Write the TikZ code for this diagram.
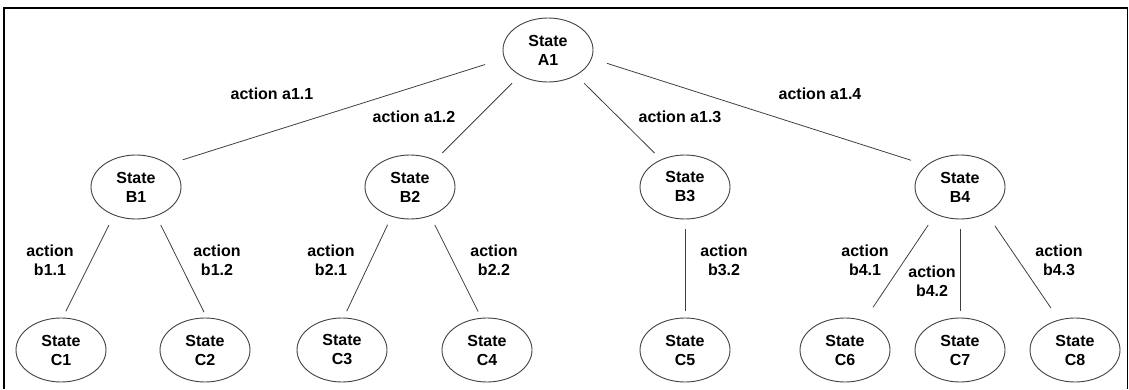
\documentclass[tikz,border=0pt]{standalone}
\usepackage{fontspec}
\setmainfont{Liberation Sans}
\usetikzlibrary{shapes.geometric}
\begin{document}
\begin{tikzpicture}[x=1pt,y=1pt,
  state/.style={ellipse,draw=black!75,line width=0.9pt,minimum width=90pt,minimum height=64pt,inner sep=0pt,align=center,font=\bfseries\fontsize{16}{19}\selectfont},
  act/.style={align=center,inner sep=0pt,font=\bfseries\fontsize{16}{19}\selectfont},
  link/.style={draw=black!75,line width=0.8pt}]
\useasboundingbox (0.000000,0.000000) rectangle (1129.000000,389.000000);
% Drawing frame
\draw[line width=2pt] (4.000000,0.000000) -- (4.000000,381.000000) -- (1127.500000,381.000000);
\draw[line width=1.5pt] (1127.500000,381.000000) -- (1127.500000,0.000000);
% Drawing states
% Level A
\node[state] (A1) at (548.000000,339.000000) {State\\A1};
% Level B
\node[state] (B1) at (136.000000,202.000000) {State\\B1};
\node[state] (B2) at (410.000000,202.000000) {State\\B2};
\node[state] (B3) at (685.000000,202.000000) {State\\B3};
\node[state] (B4) at (960.000000,202.000000) {State\\B4};
% Level C
\node[state] (C1) at (61.000000,39.000000) {State\\C1};
\node[state] (C2) at (205.000000,39.000000) {State\\C2};
\node[state] (C3) at (342.000000,39.000000) {State\\C3};
\node[state] (C4) at (487.000000,39.000000) {State\\C4};
\node[state] (C5) at (685.000000,39.000000) {State\\C5};
\node[state] (C6) at (845.000000,39.000000) {State\\C6};
\node[state] (C7) at (960.000000,39.000000) {State\\C7};
\node[state] (C8) at (1075.000000,39.000000) {State\\C8};
% Done with states; drawing actions
\draw[link,shorten <=20pt,shorten >=15pt] (A1.191) -- (B1.35);
\draw[link,shorten <=11pt,shorten >=10pt] (A1.222) -- (B2.47);
\draw[link,shorten <=11pt,shorten >=9pt] (A1.318) -- (B3.131);
\draw[link,shorten <=16pt,shorten >=16pt] (A1.349) -- (B4.147);
\draw[link,shorten <=11pt,shorten >=7pt] (B1.232) -- (C1.87);
\draw[link,shorten <=10pt,shorten >=6pt] (B1.305) -- (C2.87);
\draw[link,shorten <=9pt,shorten >=7pt] (B2.238) -- (C3.87);
\draw[link,shorten <=10pt,shorten >=7pt] (B2.305) -- (C4.100);
\draw[link,shorten <=10pt,shorten >=7pt] (B3.south) -- (C5.north);
\draw[link,shorten <=13pt,shorten >=16pt] (B4.228) -- (C6.57);
\draw[link,shorten <=10pt,shorten >=7pt] (B4.south) -- (C7.north);
\draw[link,shorten <=15pt,shorten >=14pt] (B4.315) -- (C8.118);
% Done with actions; drawing labels
\node[act] (la11) at (272.000000,295.000000) {action a1.1};
\node[act] (la12) at (414.000000,272.000000) {action a1.2};
\node[act] (la13) at (680.000000,272.000000) {action a1.3};
\node[act] (la14) at (820.000000,295.000000) {action a1.4};
\node[act] (lb11) at (50.000000,129.000000) {action\\b1.1};
\node[act] (lb12) at (217.000000,129.000000) {action\\b1.2};
\node[act] (lb21) at (331.000000,129.000000) {action\\b2.1};
\node[act] (lb22) at (494.000000,129.000000) {action\\b2.2};
\node[act] (lb32) at (724.000000,129.000000) {action\\b3.2};
\node[act] (lb41) at (865.000000,129.000000) {action\\b4.1};
\node[act] (lb42) at (932.000000,108.000000) {action\\b4.2};
\node[act] (lb43) at (1059.000000,129.000000) {action\\b4.3};
% Done with labels
\end{tikzpicture}
\end{document}
